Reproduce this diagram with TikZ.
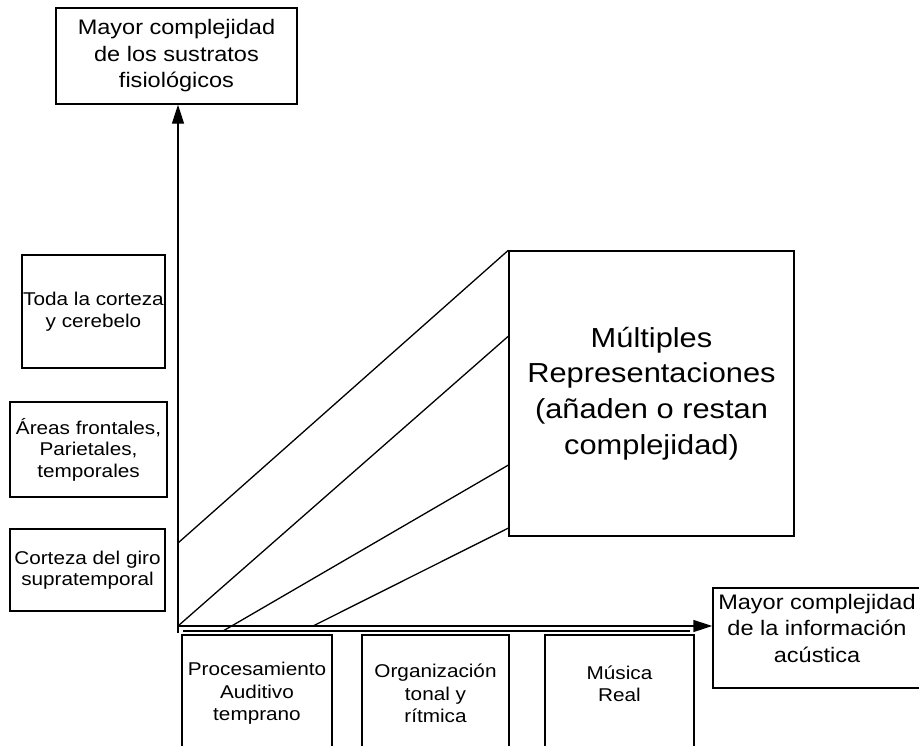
\documentclass[tikz,border=0pt]{standalone}
\usepackage{fontspec}
\setmainfont[FakeStretch=1.12]{Liberation Sans}
\usetikzlibrary{arrows.meta,calc}

\begin{document}
\begin{tikzpicture}[
  x=1pt,
  y=-1pt,
  box/.style={
    rectangle,
    draw=black,
    line width=1.4pt,
    align=center,
    inner sep=0pt
  },
  axisbox/.style={
    box,
    font=\fontsize{21}{26.5}\selectfont
  },
  areabox/.style={
    box,
    font=\fontsize{18.5}{21.5}\selectfont
  },
  stagebox/.style={
    box,
    minimum height=117pt,
    font=\fontsize{18.5}{22.5}\selectfont
  },
  link/.style={line width=1.3pt, draw=black},
  arrow/.style={-{Triangle[length=19pt,width=12pt]}, line width=1.4pt, draw=black}
]
\useasboundingbox (0,0) rectangle (919,745);
\clip (0,0) rectangle (919,745);

\node[axisbox, minimum width=241pt, minimum height=96pt] (ymax) at (176.5, 56)
  {Mayor complejidad\\de los sustratos\\fisiológicos};
\node[axisbox, minimum width=208pt, minimum height=100pt] (xmax) at (817, 638)
  {Mayor complejidad\\de la información\\acústica\\[-7pt]\mbox{}};

\node[areabox, minimum width=143pt, minimum height=113pt] (corteza) at (93.5, 311.5)
  {Toda la corteza\\y cerebelo};
\node[areabox, minimum width=157pt, minimum height=95pt] (frontal) at (88.5, 449.5)
  {Áreas frontales,\\Parietales,\\temporales};
\node[areabox, minimum width=155pt, minimum height=82pt] (giro) at (87.5, 570)
  {Corteza del giro\\supratemporal};

\node[stagebox, minimum width=150pt] (proc) at (257, 693.5)
  {Procesamiento\\Auditivo\\temprano};
\node[stagebox, minimum width=147pt] (tonal) at (435.5, 693.5)
  {Organización\\tonal y\\rítmica};
\node[stagebox, minimum width=149pt] (musica) at (619.5, 693.5)
  {Música\\Real\\[-2.5pt]\mbox{}};

\node[box, minimum width=285pt, minimum height=285pt,
  font=\fontsize{27.5}{35.7}\selectfont] (multi) at (651.5, 393.5)
  {Múltiples\\Representaciones\\(añaden o restan\\complejidad)};

% axes
\coordinate (o) at (178, 626);
\coordinate (ybot) at (178, 633);
\coordinate (o2) at (183, 631);
\coordinate (o2e) at (690, 631);
\draw[arrow] (ybot) -- (ybot |- ymax.south);
\draw[arrow] (o) -- (o -| xmax.west);
\draw[link] (o2) -- (o2e);

% representations
\coordinate (s1) at (178, 543);
\coordinate (s3) at (223, 631);
\coordinate (s4) at (313, 626);
\draw[link] (s1) -- (multi.north west);
\draw[link] (o) -- ($(multi.north west)!0.3!(multi.south west)$);
\draw[link] (s3) -- ($(multi.north west)!0.75!(multi.south west)$);
\draw[link] (s4) -- ($(multi.north west)!0.97!(multi.south west)$);
\end{tikzpicture}
\end{document}
